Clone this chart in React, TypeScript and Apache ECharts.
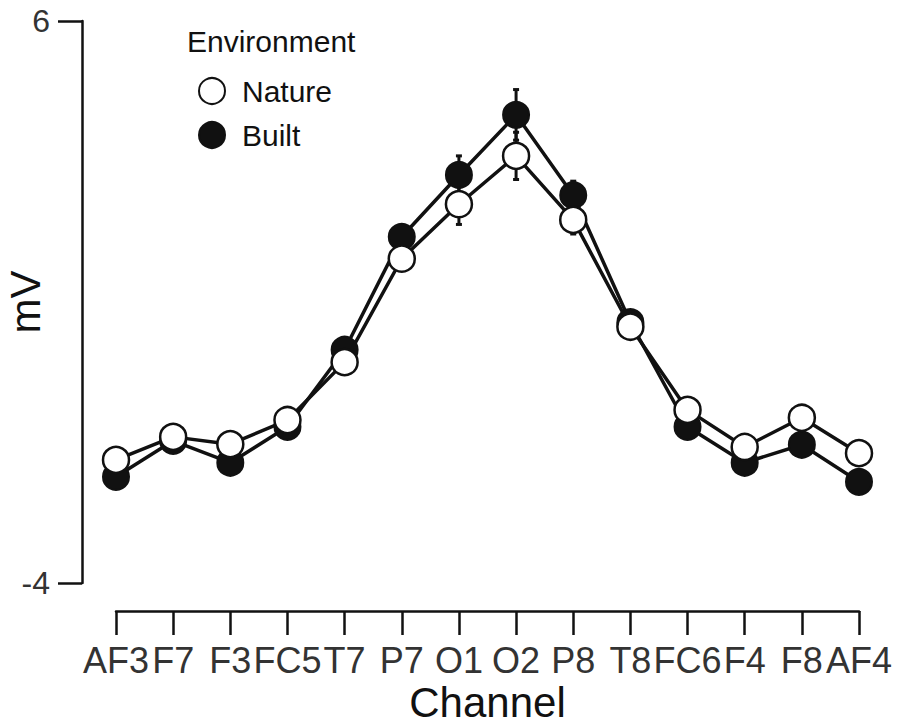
import React, { useEffect, useRef } from "react";
import * as echarts from "echarts";

const categories = ["AF3", "F7", "F3", "FC5", "T7", "P7", "O1", "O2", "P8", "T8", "FC6", "F4", "F8", "AF4"];
const natureValues = [-1.81, -1.4, -1.53, -1.1, -0.07, 1.77, 2.74, 3.6, 2.46, 0.56, -0.92, -1.58, -1.06, -1.69];
const builtValues = [-2.11, -1.47, -1.86, -1.22, 0.15, 2.16, 3.26, 4.33, 2.9, 0.64, -1.22, -1.86, -1.54, -2.2];
const natureErrors = [0.15, 0.15, 0.15, 0.15, 0.15, 0.2, 0.36, 0.42, 0.25, 0.2, 0.15, 0.15, 0.15, 0.15];
const builtErrors = [0.15, 0.15, 0.15, 0.15, 0.15, 0.2, 0.34, 0.45, 0.25, 0.2, 0.15, 0.15, 0.15, 0.15];
const yMin = -4;
const yMax = 6;

const FONT = "'Liberation Sans', Arial, sans-serif";

function errorData(values: number[], errs: number[]) {
  return values.map((v, i) => [i, v - errs[i], v + errs[i]]);
}

function renderErr(params: any, api: any) {
  const x = api.value(0);
  const lo = api.value(1);
  const hi = api.value(2);
  const p1 = api.coord([x, hi]);
  const p2 = api.coord([x, lo]);
  const w = 3;
  const st = { stroke: "#111", lineWidth: 3 };
  return {
    type: "group",
    children: [
      { type: "line", shape: { x1: p1[0], y1: p1[1], x2: p2[0], y2: p2[1] }, style: st },
      { type: "line", shape: { x1: p1[0] - w, y1: p1[1], x2: p1[0] + w, y2: p1[1] }, style: st },
      { type: "line", shape: { x1: p2[0] - w, y1: p2[1], x2: p2[0] + w, y2: p2[1] }, style: st },
    ],
  };
}

export default function App() {
  const ref = useRef<HTMLDivElement>(null);
  useEffect(() => {
    if (!ref.current) return;
    const chart = echarts.init(ref.current, undefined, { renderer: "svg" });
    chart.setOption({
      animation: false,
      backgroundColor: "#fff",
      textStyle: { fontFamily: FONT },
      title: {
        text: "Environment",
        left: 187,
        top: 26,
        padding: 0,
        textStyle: { fontFamily: FONT, fontSize: 30, fontWeight: "normal", color: "#111" },
      },
      legend: {
        orient: "vertical",
        left: 198,
        top: 76,
        icon: "circle",
        itemWidth: 26,
        itemHeight: 26,
        itemGap: 14,
        padding: 0,
        textStyle: { fontFamily: FONT, fontSize: 30, color: "#111", padding: [0, 0, 0, 12] },
        data: [
          { name: "Nature", itemStyle: { color: "#fff", borderColor: "#111", borderWidth: 2 } },
          { name: "Built", itemStyle: { color: "#111", borderColor: "#111", borderWidth: 2 } },
        ],
      },
      grid: { left: 116, right: 41, top: 21, bottom: 143, containLabel: false, outerBoundsMode: "none" },
      xAxis: {
        type: "category",
        data: categories,
        boundaryGap: false,
        offset: 28,
        axisLine: { show: true, onZero: false, lineStyle: { color: "#111", width: 2.5 } },
        axisTick: { show: true, alignWithLabel: true, interval: 0, length: 24, lineStyle: { color: "#111", width: 2.5 } },
        axisLabel: { interval: 0, fontFamily: FONT, fontSize: 36, color: "#333", margin: 31 },
        splitLine: { show: false },
        name: "Channel",
        nameLocation: "middle",
        nameGap: 70,
        nameMoveOverlap: false,
        nameTextStyle: { fontFamily: FONT, fontSize: 42, color: "#111" },
      },
      yAxis: {
        type: "value",
        min: yMin,
        max: yMax,
        interval: yMax - yMin,
        offset: 34,
        axisLine: { show: true, onZero: false, lineStyle: { color: "#111", width: 2.5 } },
        axisTick: { show: true, length: 24, lineStyle: { color: "#111", width: 2.5 } },
        axisLabel: { fontFamily: FONT, fontSize: 32, color: "#333", margin: 32 },
        splitLine: { show: false },
        name: "mV",
        nameLocation: "middle",
        nameGap: 36,
        nameMoveOverlap: false,
        nameTextStyle: { fontFamily: FONT, fontSize: 42, color: "#111" },
      },
      series: [
        {
          type: "custom",
          name: "BuiltErr",
          renderItem: renderErr,
          data: errorData(builtValues, builtErrors),
          encode: { x: 0, y: [1, 2] },
          z: 1,
          silent: true,
        },
        {
          type: "custom",
          name: "NatureErr",
          renderItem: renderErr,
          data: errorData(natureValues, natureErrors),
          encode: { x: 0, y: [1, 2] },
          z: 1,
          silent: true,
        },
        {
          type: "line",
          name: "Built",
          data: builtValues,
          symbol: "circle",
          symbolSize: 26,
          showAllSymbol: true,
          lineStyle: { color: "#111", width: 3.5 },
          itemStyle: { color: "#111", borderColor: "#111", borderWidth: 2 },
          z: 2,
        },
        {
          type: "line",
          name: "Nature",
          data: natureValues,
          symbol: "circle",
          symbolSize: 26,
          showAllSymbol: true,
          lineStyle: { color: "#111", width: 3.5 },
          itemStyle: { color: "#fff", borderColor: "#111", borderWidth: 2.5 },
          z: 3,
        },
      ],
    });
    return () => chart.dispose();
  }, []);
  return <div ref={ref} style={{ position: "fixed", left: 0, top: 0, width: 900, height: 726 }} />;
}
